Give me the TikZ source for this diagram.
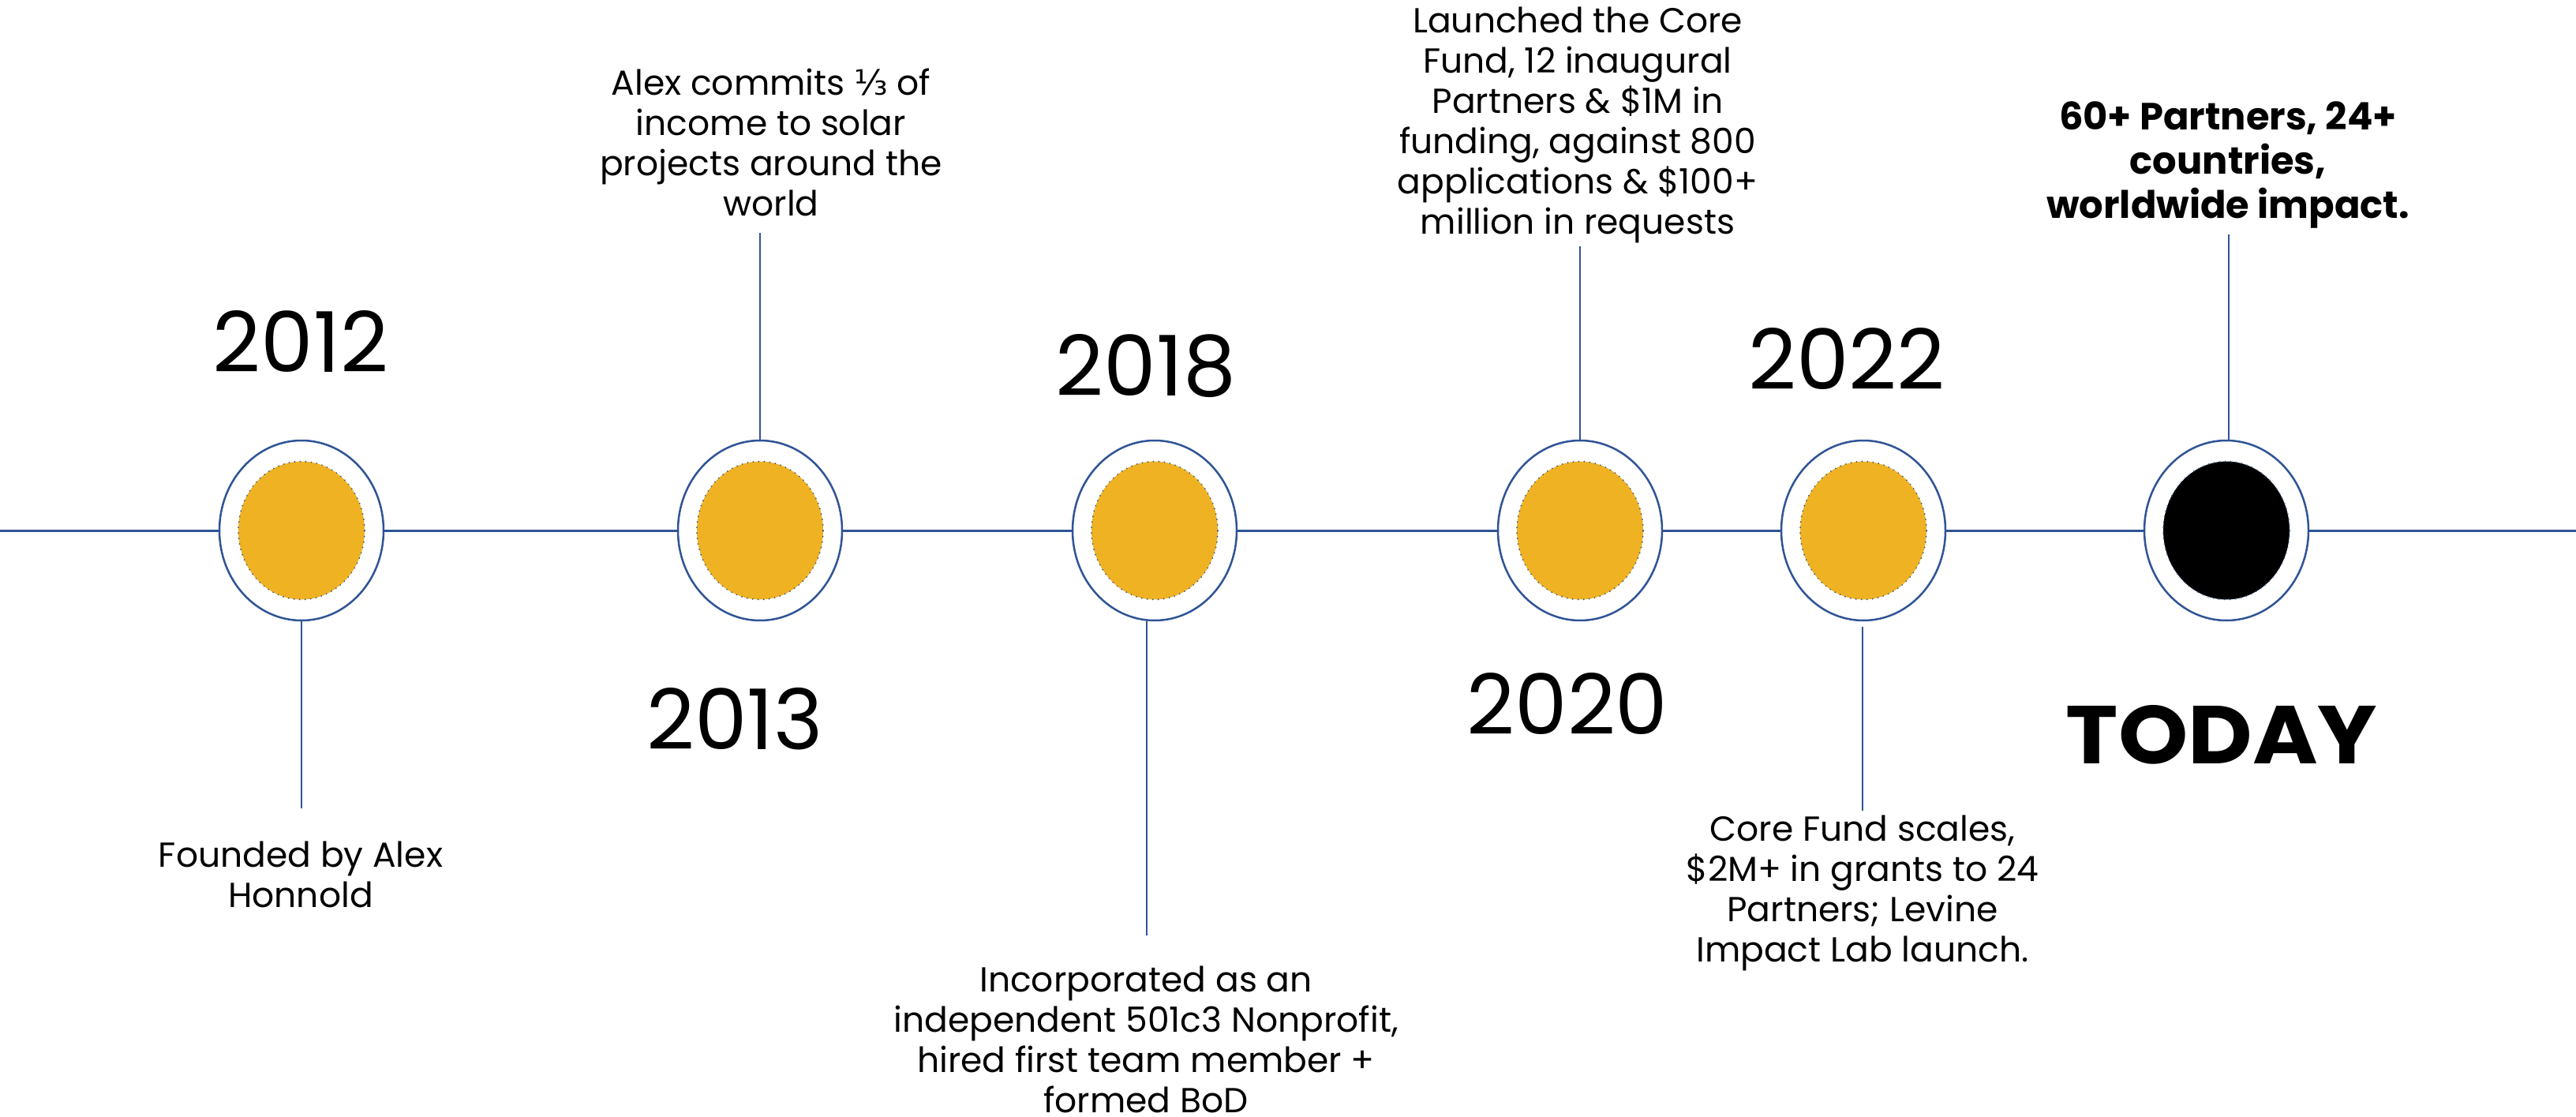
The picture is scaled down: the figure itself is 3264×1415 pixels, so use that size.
\documentclass[tikz,border=0pt]{standalone}
\usepackage{fontspec}
\usepackage{graphicx}
\setmainfont{Poppins}
\newfontfamily\djv{DejaVu Sans}
\usetikzlibrary{shapes.geometric}
\definecolor{tlblue}{RGB}{47,84,150}
\definecolor{tlgold}{RGB}{239,178,35}
\begin{document}
\begin{tikzpicture}[x=1pt,y=-1pt,
  ringnode/.style={ellipse, draw=tlblue, line width=2.5pt, fill=white, minimum width=208pt, minimum height=228pt, inner sep=0pt},
  dotnode/.style={ellipse, draw=tlblue, line width=2pt, line cap=round, dash pattern=on 0.01pt off 7pt, fill=tlgold, minimum width=160pt, minimum height=175pt, inner sep=0pt},
  axisline/.style={draw=tlblue, line width=3pt},
  stem/.style={draw=tlblue, line width=2pt},
  year/.style={font=\fontsize{106}{110}\selectfont, anchor=base, inner sep=0pt},
  desc/.style={font=\fontsize{44}{51}\selectfont, align=center, anchor=base, inner sep=0pt},
]
\fill[white] (0,0) rectangle (3264,1415);
\useasboundingbox (0,0) rectangle (3264,1415);

\coordinate (L) at (0,672);
\coordinate (R) at (3264,672);
\draw[axisline] (L) -- (R);

% circles
\node[ringnode] (c1) at (382,672) {};
\node[dotnode] (d1) at (382,672) {};
\node[ringnode] (c2) at (963,672) {};
\node[dotnode] (d2) at (963,672) {};
\node[ringnode] (c3) at (1463,672) {};
\node[dotnode] (d3) at (1463,672) {};
\node[ringnode] (c4) at (2002,672) {};
\node[dotnode] (d4) at (2002,672) {};
\node[ringnode] (c5) at (2361,672) {};
\node[dotnode] (d5) at (2361,672) {};
\node[ringnode] (c6) at (2821,672) {};
\node[dotnode, fill=black] (d6) at (2821,672) {};

% stems
\coordinate (e1) at (382,1024);
\coordinate (e2) at (963,295);
\coordinate (e3) at (1453,1185);
\coordinate (e4) at (2002,312);
\coordinate (s5) at (2360,794);
\coordinate (e5) at (2360,1027);
\coordinate (e6) at (2824,297);
\draw[stem] (c1.south) -- (e1);
\draw[stem] (c2.north) -- (e2);
\draw[stem] (c3.south -| e3) -- (e3);
\draw[stem] (c4.north) -- (e4);
\draw[stem] (s5) -- (e5);
\draw[stem] (c6.north -| e6) -- (e6);

% years
\node[year] (y1) at (381,471) {2012};
\node[year] (y2) at (931,949) {2013};
\node[year] (y3) at (1452,501) {2018};
\node[year] (y4) at (1986,930) {2020};
\node[year] (y5) at (2340,493) {2022};
\node[year, font=\fontsize{104}{110}\selectfont\bfseries] (y6) at (2815,967) {\scalebox{1.08}[1]{TODAY}};

% descriptions (anchor base = last line's baseline)
\node[desc] (t1) at (381,1149) {Founded by Alex\\Honnold};
\node[desc] (t2) at (977,274) {Alex commits {\djv ⅓} of\\income to solar\\projects around the\\world};
\node[desc] (t3) at (1452,1409) {Incorporated as an\\independent 501c3 Nonprofit,\\hired first team member +\\formed BoD};
\node[desc] (t4) at (1999,297) {Launched the Core\\Fund, 12 inaugural\\Partners \& \$1M in\\funding, against 800\\applications \& \$100+\\million in requests};
\node[desc] (t5) at (2360,1218) {Core Fund scales,\\\$2M+ in grants to 24\\Partners; Levine\\Impact Lab launch.};
\node[desc, font=\fontsize{48}{56}\selectfont\bfseries] (t6) at (2823,277) {60+ Partners, 24+\\countries,\\worldwide impact.};
\end{tikzpicture}
\end{document}
